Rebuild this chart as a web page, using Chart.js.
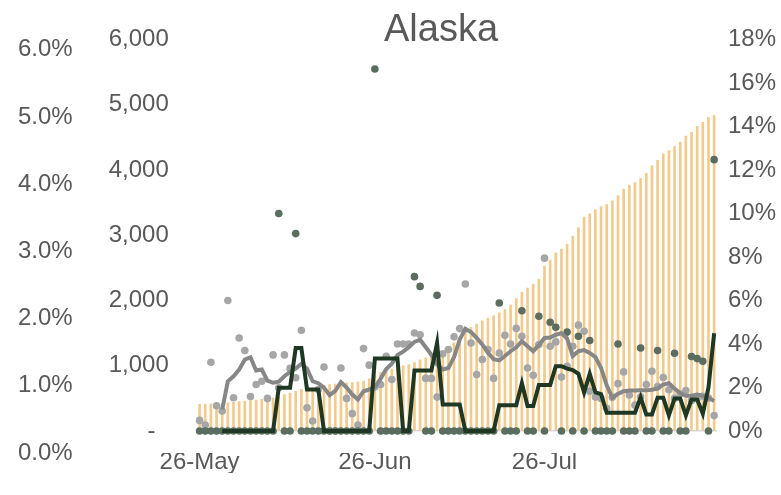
<!DOCTYPE html>
<html>
<head>
<meta charset="utf-8">
<title>Alaska</title>
<script src="https://cdn.jsdelivr.net/npm/chart.js@4"></script>
<style>
  html, body { margin: 0; padding: 0; background: #fff; }
  #wrap { width: 781px; height: 495px; }
</style>
</head>
<body>
<div id="wrap"><canvas id="alaskaChart" width="781" height="495"></canvas></div>
<script>
// daily categories, 26-May .. 25-Aug
const MONTHS = ["Jan", "Feb", "Mar", "Apr", "May", "Jun", "Jul", "Aug", "Sep", "Oct", "Nov", "Dec"];
const dateLabels = [];
for (let i = 0; i < 92; i++) {
  const d = new Date(Date.UTC(2020, 4, 26 + i));
  dateLabels.push(d.getUTCDate() + "-" + MONTHS[d.getUTCMonth()]);
}
const xTickLabels = ["26-May", "26-Jun", "26-Jul"];

// tick labels for the three value axes
const countTicks = [0, 1000, 2000, 3000, 4000, 5000, 6000];
const shareTicks = [0, 1, 2, 3, 4, 5, 6];
const rateTicks = [0, 2, 4, 6, 8, 10, 12, 14, 16, 18];

// orange bars (count axis)
const cumulativeCases = [
  410, 412, 415, 420, 425, 430, 440, 450, 460, 465,
  475, 485, 495, 505, 520, 560, 580, 610, 640, 650,
  660, 680, 700, 710, 720, 730, 740, 745, 755, 765,
  800, 850, 900, 930, 950, 975, 1000, 1020, 1050, 1090,
  1120, 1160, 1190, 1220, 1260, 1350, 1440, 1520, 1590, 1640,
  1690, 1730, 1770, 1810, 1860, 1930, 2030, 2130, 2190, 2250,
  2330, 2530, 2620, 2730, 2790, 2860, 2990, 3120, 3280, 3330,
  3390, 3440, 3470, 3530, 3610, 3710, 3770, 3810, 3870, 3950,
  4070, 4150, 4250, 4300, 4360, 4430, 4520, 4580, 4670, 4730,
  4810, 4840
];

// grey dots (rate axis, %)
const greyDaily = [
  0.49, 0.28, 3.16, 1.16, 0.92, 6.0, 1.53, 4.28, 3.70, 1.59,
  2.14, 2.29, 1.5, 3.5, 1.99, 3.5, 2.88, 2.45, 4.63, 1.07,
  0.46, 1.91, 2.94, 0, 0, 2.9, 1.5, 0.8, 0.28, 3.79,
  3.03, 2.02, 2.14, 3.44, 2.37, 4.0, 4.0, 4.0, 4.51, 4.43,
  2.42, 2.42, 1.56, 3.55, 3.75, 4.33, 4.71, 6.76, 4.05, 2.6,
  3.29, 3.75, 2.42, 3.59, 4.4, 4.0, 4.72, 4.36, 2.9, 2.56,
  3.98, 7.95, 3.9, 4.1, 2.48, 2.98, 3.9, 4.87, 4.59, 1.83,
  1.56, 1.5, 1.05, 1.55, 2.18, 2.72, 1.66, 1.19, 1.58, 2.14,
  2.75, 2.04, 2.46, 1.9, 1.5, 1.7, 1.86, 1.4, 1.5, 1.6,
  1.52, 0.71
];

// green dots (rate axis, %)
const greenDaily = [
  0, 0, 0, 0, 0, 0, 0, 0, 0, 0,
  0, 0, 0, 0, 10.0, 0, 0, 9.08, 0, 0,
  0, 0, 0, 0, 0, 0, 0, 0, 0, 0,
  0, 16.65, 0, 0, 0, 0, 0, 0, 7.1, 6.65,
  0, 0, 6.24, 0, 0, 0, 0, 0, 0, 0,
  0, 0, 0, 5.89, 0, 0, 0, 5.53, 0, 0,
  5.28, 0, 5.0, 4.77, 0, 4.55, 0, 4.36, 0, 4.16,
  0, 0, 0, 0, 4.0, 0, 0, 0, 3.82, 0,
  0, 3.70, 0, 0, 3.58, 0, 0, 3.43, 3.33, 3.21,
  0, 12.48
];

// grey line (rate axis, %)
const greyAverage = [
  null, null, null, null, 1.0, 2.29, 2.52, 2.83, 3.29, 3.39,
  2.78, 2.83, 2.32, 2.22, 2.27, 2.52, 2.72, 2.87, 3.09, 2.87,
  2.29, 2.2, 2.0, 1.65, 1.85, 2.25, 2.0, 1.68, 1.45, 1.83,
  1.91, 2.02, 2.4, 2.85, 3.1, 3.5, 3.65, 3.85, 4.1, 4.2,
  3.85, 3.5, 3.06, 2.83, 2.9, 3.4, 4.2, 4.7, 4.55, 4.28,
  3.98, 3.6, 3.3, 3.25, 3.45, 3.67, 3.85, 4.13, 3.9, 3.67,
  3.95, 4.28, 4.3, 4.43, 4.5, 4.25, 3.45, 3.67, 3.72, 3.59,
  3.4, 2.9, 2.1, 1.53, 1.71, 1.83, 1.86, 1.86, 1.87, 1.87,
  1.9, 1.95, 2.14, 2.2, 1.95, 1.75, 1.62, 1.62, 1.68, 1.62,
  1.53, 1.38
];

// green line (rate axis, %)
const greenAverage = [
  null, null, null, null, 0, 0, 0, 0, 0, 0,
  0, 0, 0, 0, 1.99, 1.99, 1.99, 3.82, 3.82, 1.91,
  1.91, 1.91, 0, 0, 0, 0, 0, 0, 0, 0,
  0, 3.33, 3.33, 3.33, 3.33, 3.33, 0, 0, 2.78, 2.78,
  2.78, 2.78, 4.05, 1.22, 1.22, 1.22, 1.22, 0, 0, 0,
  0, 0, 0, 1.19, 1.19, 1.19, 1.19, 2.2, 1.15, 1.15,
  2.12, 2.12, 2.12, 2.98, 2.98, 2.87, 2.8, 2.63, 1.78, 2.63,
  1.78, 1.7, 0.84, 0.84, 0.84, 0.84, 0.84, 0.84, 1.55, 0.76,
  0.76, 1.53, 1.53, 0.72, 1.5, 1.5, 0.72, 1.45, 1.45, 0.8,
  2.0, 4.5
];

const FONT = "'Liberation Sans', Arial, sans-serif";
const TEXT_GREY = "#595959";
const tickFont = { family: FONT, size: 24 };

function fixedTicks(list) {
  return scale => { scale.ticks = list.map(v => ({ value: v })); };
}

// value axes shouldn't push the plot area in for their end labels
function noEndPadding(scale) {
  scale.paddingTop = 0;
  scale.paddingBottom = 0;
}

new Chart(document.getElementById("alaskaChart"), {
  type: "bar",
  data: {
    labels: dateLabels,
    datasets: [
      {
        type: "line",
        data: greenAverage,
        yAxisID: "yRate",
        borderColor: "#1E3823",
        borderWidth: 4,
        pointRadius: 0,
        tension: 0,
        order: 0,
      },
      {
        type: "line",
        data: greyAverage,
        yAxisID: "yRate",
        borderColor: "#878787",
        borderWidth: 4,
        pointRadius: 0,
        tension: 0,
        order: 1,
      },
      {
        type: "line",
        data: greenDaily,
        yAxisID: "yRate",
        showLine: false,
        pointRadius: 3.8,
        pointBorderWidth: 0,
        pointBackgroundColor: "#5A6D5F",
        order: 2,
      },
      {
        type: "line",
        data: greyDaily,
        yAxisID: "yRate",
        showLine: false,
        pointRadius: 3.8,
        pointBorderWidth: 0,
        pointBackgroundColor: "#A6A6A6",
        order: 3,
      },
      {
        type: "bar",
        data: cumulativeCases,
        yAxisID: "yCount",
        backgroundColor: "#F2CA8C",
        barThickness: 2,
        order: 4,
      },
    ],
  },
  options: {
    responsive: false,
    animation: false,
    devicePixelRatio: 1,
    layout: { padding: { left: 10, right: -6, top: 0, bottom: 22 } },
    plugins: {
      legend: { display: false },
      tooltip: { enabled: false },
      title: {
        display: true,
        text: "Alaska   ",
        fullSize: false,
        color: TEXT_GREY,
        font: { family: FONT, size: 38, weight: "normal" },
        padding: { top: 8, bottom: -14 },
      },
    },
    scales: {
      x: {
        offset: true,
        grid: { display: false, drawTicks: false },
        border: { display: false },
        afterFit: s => { s.height = 20; },
        ticks: {
          autoSkip: false,
          maxRotation: 0,
          padding: -5,
          color: TEXT_GREY,
          font: tickFont,
          callback: (v, i) => (xTickLabels.includes(dateLabels[i]) ? dateLabels[i] : ""),
        },
      },
      yShare: {
        position: "left",
        weight: 1,
        min: 0,
        max: 6.15,
        afterBuildTicks: fixedTicks(shareTicks),
        afterFit: noEndPadding,
        grid: { display: false, drawTicks: false },
        border: { display: false },
        ticks: {
          padding: 8,
          color: TEXT_GREY,
          font: tickFont,
          callback: v => v.toFixed(1) + "%",
        },
      },
      yCount: {
        position: "left",
        weight: 0,
        min: -337,
        max: 6000,
        afterBuildTicks: fixedTicks(countTicks),
        afterFit: noEndPadding,
        grid: {
          drawTicks: false,
          lineWidth: 1.5,
          color: ctx => (ctx.tick && ctx.tick.value === 0 ? "#D9D9D9" : "rgba(0,0,0,0)"),
        },
        border: { display: false },
        ticks: {
          padding: 28,
          color: TEXT_GREY,
          font: tickFont,
          callback: v => (v === 0 ? "-  " : v.toLocaleString("en-US")),
        },
      },
      yRate: {
        position: "right",
        min: -1.01,
        max: 18,
        afterBuildTicks: fixedTicks(rateTicks),
        afterFit: noEndPadding,
        grid: { display: false, drawTicks: false },
        border: { display: false },
        ticks: {
          padding: 11,
          color: TEXT_GREY,
          font: tickFont,
          callback: v => v + "%",
        },
      },
    },
  },
});
</script>
</body>
</html>
